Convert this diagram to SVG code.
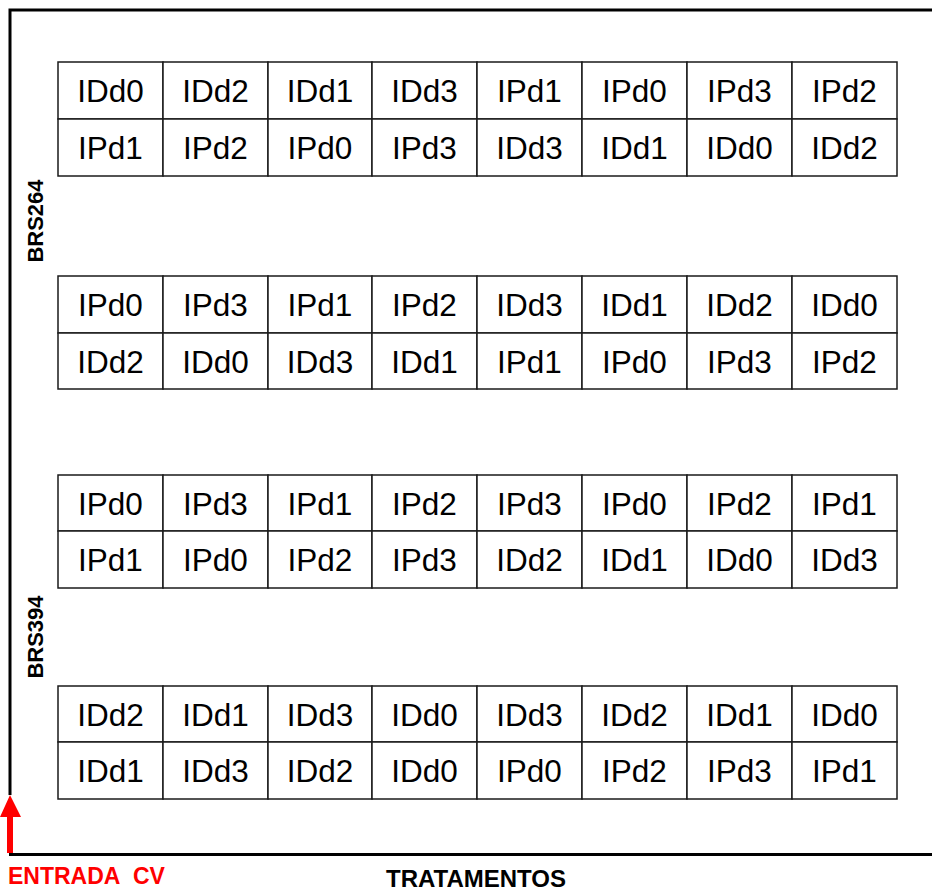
<svg xmlns="http://www.w3.org/2000/svg" width="932" height="891" viewBox="0 0 932 891">
<style>
.c rect{fill:#fff;stroke:#1a1a1a;stroke-width:1.5}
.c text{font-family:"Liberation Sans",Arial,sans-serif;font-size:31.5px;fill:#000;text-anchor:middle}
.lbl{font-family:"Liberation Sans",Arial,sans-serif;font-weight:bold;font-size:22px;fill:#000;text-anchor:middle}
.frame{stroke:#000;stroke-width:3;fill:none}
</style>
<rect x="0" y="0" width="932" height="891" fill="#fff"/>
<g id="frame">
<path class="frame" d="M10,795 V10 H932"/>
<path class="frame" d="M9,854.5 H932"/>
</g>
<g id="connectors">
<polygon points="10,795 21,817 13,817 13,853 7,853 7,817 0,817" fill="#ff0000"/>
</g>
<g id="labels">
<text class="lbl" transform="translate(43,221) rotate(-90)">BRS264</text>
<text class="lbl" transform="translate(43,637) rotate(-90)">BRS394</text>
<text x="8" y="884" style="font-family:'Liberation Sans',Arial,sans-serif;font-weight:bold;font-size:23px;fill:#ff0000;word-spacing:7px">ENTRADA CV</text>
<text x="476" y="887" class="lbl" style="font-size:24px">TRATAMENTOS</text>
</g>
<g id="block1">
<g id="b1r1c1" class="c"><rect x="58" y="62" width="105" height="57"/><text x="110.5" y="102">IDd0</text></g>
<g id="b1r1c2" class="c"><rect x="163" y="62" width="105" height="57"/><text x="215.5" y="102">IDd2</text></g>
<g id="b1r1c3" class="c"><rect x="268" y="62" width="104" height="57"/><text x="320" y="102">IDd1</text></g>
<g id="b1r1c4" class="c"><rect x="372" y="62" width="105" height="57"/><text x="424.5" y="102">IDd3</text></g>
<g id="b1r1c5" class="c"><rect x="477" y="62" width="105" height="57"/><text x="529.5" y="102">IPd1</text></g>
<g id="b1r1c6" class="c"><rect x="582" y="62" width="105" height="57"/><text x="634.5" y="102">IPd0</text></g>
<g id="b1r1c7" class="c"><rect x="687" y="62" width="105" height="57"/><text x="739.5" y="102">IPd3</text></g>
<g id="b1r1c8" class="c"><rect x="792" y="62" width="105" height="57"/><text x="844.5" y="102">IPd2</text></g>
<g id="b1r2c1" class="c"><rect x="58" y="119" width="105" height="57"/><text x="110.5" y="159">IPd1</text></g>
<g id="b1r2c2" class="c"><rect x="163" y="119" width="105" height="57"/><text x="215.5" y="159">IPd2</text></g>
<g id="b1r2c3" class="c"><rect x="268" y="119" width="104" height="57"/><text x="320" y="159">IPd0</text></g>
<g id="b1r2c4" class="c"><rect x="372" y="119" width="105" height="57"/><text x="424.5" y="159">IPd3</text></g>
<g id="b1r2c5" class="c"><rect x="477" y="119" width="105" height="57"/><text x="529.5" y="159">IDd3</text></g>
<g id="b1r2c6" class="c"><rect x="582" y="119" width="105" height="57"/><text x="634.5" y="159">IDd1</text></g>
<g id="b1r2c7" class="c"><rect x="687" y="119" width="105" height="57"/><text x="739.5" y="159">IDd0</text></g>
<g id="b1r2c8" class="c"><rect x="792" y="119" width="105" height="57"/><text x="844.5" y="159">IDd2</text></g>
</g>
<g id="block2">
<g id="b2r1c1" class="c"><rect x="58" y="276" width="105" height="57"/><text x="110.5" y="316">IPd0</text></g>
<g id="b2r1c2" class="c"><rect x="163" y="276" width="105" height="57"/><text x="215.5" y="316">IPd3</text></g>
<g id="b2r1c3" class="c"><rect x="268" y="276" width="104" height="57"/><text x="320" y="316">IPd1</text></g>
<g id="b2r1c4" class="c"><rect x="372" y="276" width="105" height="57"/><text x="424.5" y="316">IPd2</text></g>
<g id="b2r1c5" class="c"><rect x="477" y="276" width="105" height="57"/><text x="529.5" y="316">IDd3</text></g>
<g id="b2r1c6" class="c"><rect x="582" y="276" width="105" height="57"/><text x="634.5" y="316">IDd1</text></g>
<g id="b2r1c7" class="c"><rect x="687" y="276" width="105" height="57"/><text x="739.5" y="316">IDd2</text></g>
<g id="b2r1c8" class="c"><rect x="792" y="276" width="105" height="57"/><text x="844.5" y="316">IDd0</text></g>
<g id="b2r2c1" class="c"><rect x="58" y="333" width="105" height="56"/><text x="110.5" y="372.5">IDd2</text></g>
<g id="b2r2c2" class="c"><rect x="163" y="333" width="105" height="56"/><text x="215.5" y="372.5">IDd0</text></g>
<g id="b2r2c3" class="c"><rect x="268" y="333" width="104" height="56"/><text x="320" y="372.5">IDd3</text></g>
<g id="b2r2c4" class="c"><rect x="372" y="333" width="105" height="56"/><text x="424.5" y="372.5">IDd1</text></g>
<g id="b2r2c5" class="c"><rect x="477" y="333" width="105" height="56"/><text x="529.5" y="372.5">IPd1</text></g>
<g id="b2r2c6" class="c"><rect x="582" y="333" width="105" height="56"/><text x="634.5" y="372.5">IPd0</text></g>
<g id="b2r2c7" class="c"><rect x="687" y="333" width="105" height="56"/><text x="739.5" y="372.5">IPd3</text></g>
<g id="b2r2c8" class="c"><rect x="792" y="333" width="105" height="56"/><text x="844.5" y="372.5">IPd2</text></g>
</g>
<g id="block3">
<g id="b3r1c1" class="c"><rect x="58" y="475" width="105" height="56"/><text x="110.5" y="514.5">IPd0</text></g>
<g id="b3r1c2" class="c"><rect x="163" y="475" width="105" height="56"/><text x="215.5" y="514.5">IPd3</text></g>
<g id="b3r1c3" class="c"><rect x="268" y="475" width="104" height="56"/><text x="320" y="514.5">IPd1</text></g>
<g id="b3r1c4" class="c"><rect x="372" y="475" width="105" height="56"/><text x="424.5" y="514.5">IPd2</text></g>
<g id="b3r1c5" class="c"><rect x="477" y="475" width="105" height="56"/><text x="529.5" y="514.5">IPd3</text></g>
<g id="b3r1c6" class="c"><rect x="582" y="475" width="105" height="56"/><text x="634.5" y="514.5">IPd0</text></g>
<g id="b3r1c7" class="c"><rect x="687" y="475" width="105" height="56"/><text x="739.5" y="514.5">IPd2</text></g>
<g id="b3r1c8" class="c"><rect x="792" y="475" width="105" height="56"/><text x="844.5" y="514.5">IPd1</text></g>
<g id="b3r2c1" class="c"><rect x="58" y="531" width="105" height="57"/><text x="110.5" y="571">IPd1</text></g>
<g id="b3r2c2" class="c"><rect x="163" y="531" width="105" height="57"/><text x="215.5" y="571">IPd0</text></g>
<g id="b3r2c3" class="c"><rect x="268" y="531" width="104" height="57"/><text x="320" y="571">IPd2</text></g>
<g id="b3r2c4" class="c"><rect x="372" y="531" width="105" height="57"/><text x="424.5" y="571">IPd3</text></g>
<g id="b3r2c5" class="c"><rect x="477" y="531" width="105" height="57"/><text x="529.5" y="571">IDd2</text></g>
<g id="b3r2c6" class="c"><rect x="582" y="531" width="105" height="57"/><text x="634.5" y="571">IDd1</text></g>
<g id="b3r2c7" class="c"><rect x="687" y="531" width="105" height="57"/><text x="739.5" y="571">IDd0</text></g>
<g id="b3r2c8" class="c"><rect x="792" y="531" width="105" height="57"/><text x="844.5" y="571">IDd3</text></g>
</g>
<g id="block4">
<g id="b4r1c1" class="c"><rect x="58" y="686" width="105" height="56"/><text x="110.5" y="725.5">IDd2</text></g>
<g id="b4r1c2" class="c"><rect x="163" y="686" width="105" height="56"/><text x="215.5" y="725.5">IDd1</text></g>
<g id="b4r1c3" class="c"><rect x="268" y="686" width="104" height="56"/><text x="320" y="725.5">IDd3</text></g>
<g id="b4r1c4" class="c"><rect x="372" y="686" width="105" height="56"/><text x="424.5" y="725.5">IDd0</text></g>
<g id="b4r1c5" class="c"><rect x="477" y="686" width="105" height="56"/><text x="529.5" y="725.5">IDd3</text></g>
<g id="b4r1c6" class="c"><rect x="582" y="686" width="105" height="56"/><text x="634.5" y="725.5">IDd2</text></g>
<g id="b4r1c7" class="c"><rect x="687" y="686" width="105" height="56"/><text x="739.5" y="725.5">IDd1</text></g>
<g id="b4r1c8" class="c"><rect x="792" y="686" width="105" height="56"/><text x="844.5" y="725.5">IDd0</text></g>
<g id="b4r2c1" class="c"><rect x="58" y="742" width="105" height="57"/><text x="110.5" y="782">IDd1</text></g>
<g id="b4r2c2" class="c"><rect x="163" y="742" width="105" height="57"/><text x="215.5" y="782">IDd3</text></g>
<g id="b4r2c3" class="c"><rect x="268" y="742" width="104" height="57"/><text x="320" y="782">IDd2</text></g>
<g id="b4r2c4" class="c"><rect x="372" y="742" width="105" height="57"/><text x="424.5" y="782">IDd0</text></g>
<g id="b4r2c5" class="c"><rect x="477" y="742" width="105" height="57"/><text x="529.5" y="782">IPd0</text></g>
<g id="b4r2c6" class="c"><rect x="582" y="742" width="105" height="57"/><text x="634.5" y="782">IPd2</text></g>
<g id="b4r2c7" class="c"><rect x="687" y="742" width="105" height="57"/><text x="739.5" y="782">IPd3</text></g>
<g id="b4r2c8" class="c"><rect x="792" y="742" width="105" height="57"/><text x="844.5" y="782">IPd1</text></g>
</g>
</svg>
